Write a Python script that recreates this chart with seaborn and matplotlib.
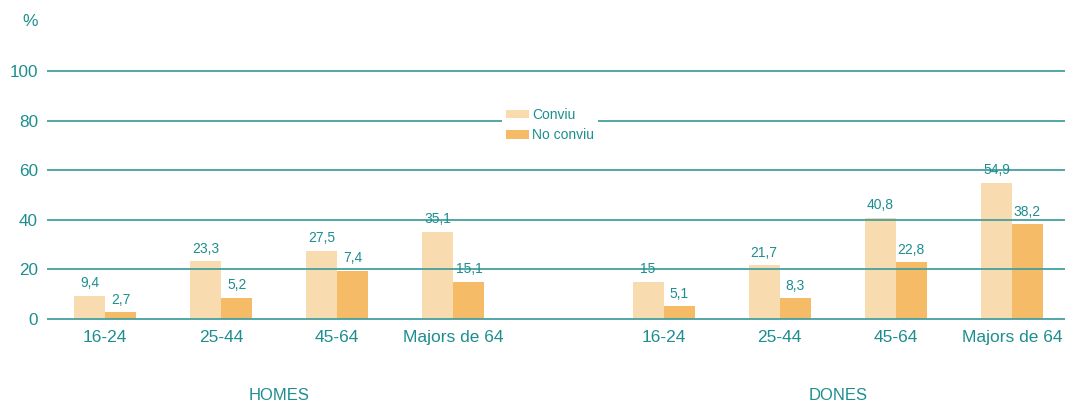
import numpy as np
import pandas as pd
import matplotlib
matplotlib.use("Agg")
import matplotlib.pyplot as plt
import matplotlib.transforms as mtransforms
from matplotlib.patches import Patch
import seaborn as sns

# data
groups = ["HOMES", "DONES"]
ages = ["16-24", "25-44", "45-64", "Majors de 64"]
series = ["Conviu", "No conviu"]

# bar heights as drawn (HOMES then DONES)
conviu = [9.4, 23.3, 27.5, 35.1, 15.0, 21.7, 40.8, 54.9]
no_conviu = [2.7, 8.5, 19.5, 15.1, 5.1, 8.3, 22.8, 38.2]
# printed labels (two HOMES "No conviu" bars are drawn taller than their label)
conviu_lbl = ["9,4", "23,3", "27,5", "35,1", "15", "21,7", "40,8", "54,9"]
no_conviu_lbl = ["2,7", "5,2", "7,4", "15,1", "5,1", "8,3", "22,8", "38,2"]

TEAL = "#1d8e8f"
GRID = "#45a0a0"
LIGHT = "#f9dbb0"
DARK = "#f5bb66"

sns.set_theme(style="white")
plt.rcParams["font.family"] = ["Liberation Sans", "DejaVu Sans"]

# positions: 4 slots per group, wider gap between groups
gap = 1.81
xpos = np.concatenate([np.arange(4), np.arange(4) + 3 + gap])

df = pd.DataFrame({
    "x": np.concatenate([xpos, xpos]),
    "serie": [series[0]] * 8 + [series[1]] * 8,
    "val": conviu + no_conviu,
})

W, H = 1065, 405
fig = plt.figure(figsize=(W / 100, H / 100), dpi=100)
ax = fig.add_axes([47 / W, (H - 320) / H, 1 - 47 / W, 250 / H])

sns.barplot(data=df, x="x", y="val", hue="serie", native_scale=True,
            width=0.534, palette=[LIGHT, DARK], saturation=1,
            linewidth=0, legend=False, ax=ax)

for cont, lbls in zip(ax.containers, [conviu_lbl, no_conviu_lbl]):
    ax.bar_label(cont, labels=lbls, padding=4, fontsize=10, color=TEAL)

ax.set_xlim(-0.5, xpos[-1] + 0.457)
ax.set_ylim(-0.4, 100.4)
ax.set_yticks(range(0, 101, 20))
ax.set_xticks(xpos)
ax.set_xticklabels(ages * 2)
ax.tick_params(axis="both", length=0, colors=TEAL, labelsize=12.5)
ax.tick_params(axis="x", pad=7)
ax.tick_params(axis="y", pad=6.5, labelsize=12.3)
ax.set_xlabel("")
ax.set_ylabel("")
ax.grid(axis="y", color=GRID, linewidth=1.3)
ax.grid(axis="x", visible=False)
ax.set_axisbelow(False)
for s in ax.spines.values():
    s.set_visible(False)

# group labels under the age ticks
trans = mtransforms.blended_transform_factory(ax.transData, fig.transFigure)
for i, g in enumerate(groups):
    cx = xpos[i * 4:(i + 1) * 4].mean()
    ax.text(cx, (H - 396) / H, g, transform=trans, ha="center", va="center",
            fontsize=12, color=TEAL)

fig.text(30 / W, 1 - 22 / H, "%", ha="center", va="center", fontsize=12.5, color=TEAL)

handles = [Patch(facecolor=LIGHT, edgecolor="none"), Patch(facecolor=DARK, edgecolor="none")]
leg = fig.legend(handles, series, loc="center", bbox_to_anchor=(550 / W, 1 - 125 / H),
                 frameon=True, fontsize=10, handlelength=1.65, handleheight=0.6,
                 handletextpad=0.25, labelspacing=0.45, borderpad=0.3,
                 facecolor="white", edgecolor="none", framealpha=1, fancybox=False)
for t in leg.get_texts():
    t.set_color(TEAL)

fig.savefig("out.png", dpi=100)
